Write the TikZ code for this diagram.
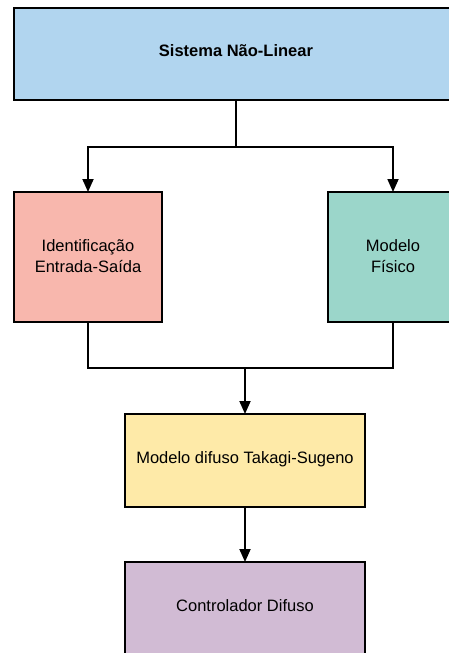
\documentclass[tikz,border=0pt]{standalone}
\usepackage{fontspec}
\setmainfont{Liberation Sans}
\usetikzlibrary{arrows.meta}
\definecolor{cblue}{HTML}{B1D5EF}
\definecolor{cpink}{HTML}{F8B7AD}
\definecolor{cteal}{HTML}{9BD6CA}
\definecolor{cyellow}{HTML}{FEEAA8}
\definecolor{cpurple}{HTML}{D1BBD4}
\begin{document}
\begin{tikzpicture}[x=1pt,y=-1pt,
  txt/.style={font=\fontsize{16.5}{21}\selectfont,align=center,inner sep=0pt},
  box/.style={draw=black,line width=1.8pt,inner sep=0pt,outer sep=0pt},
  conn/.style={line width=1.8pt},
  arr/.style={line width=1.8pt,-{Triangle[length=13pt,width=11pt]}}]
\useasboundingbox (0,0) rectangle (449,653);
\begin{scope}
\clip (0,0) rectangle (449,653);
\node[box,fill=cblue,minimum width=444pt,minimum height=92pt] (sys) at (236,54) {};
\node[txt,font=\fontsize{16.5}{21}\selectfont\bfseries] (systxt) at (236,51) {Sistema Não-Linear};
\node[box,fill=cpink,minimum width=148pt,minimum height=130pt] (id) at (88,257) {};
\node[txt] (idtxt) at (88,256) {Identificação\\Entrada-Saída};
\node[box,fill=cteal,minimum width=130pt,minimum height=130pt] (fis) at (393,257) {};
\node[txt] (fistxt) at (393,256) {Modelo\\Físico};
\node[box,fill=cyellow,minimum width=240pt,minimum height=93pt] (ts) at (245,460.5) {};
\node[txt] (tstxt) at (245,459.5) {Modelo difuso Takagi-Sugeno};
\node[box,fill=cpurple,minimum width=240pt,minimum height=93pt] (ctrl) at (245,608.5) {};
\node[txt] (ctrltxt) at (245,606) {Controlador Difuso};
\coordinate (s1) at (236,147);
\coordinate (sl) at (88,147);
\coordinate (sr) at (393,147);
\coordinate (m1) at (88,368);
\coordinate (m2) at (393,368);
\coordinate (mj) at (245,368);
\draw[conn] (sys.south) -- (s1);
\draw[arr] (s1) -- (sl) -- (id.north);
\draw[arr] (s1) -- (sr) -- (fis.north);
\draw[conn] (id.south) -- (m1) -- (m2) -- (fis.south);
\draw[arr] (mj) -- (ts.north);
\draw[arr] (ts.south) -- (ctrl.north);
\end{scope}
\end{tikzpicture}
\end{document}
